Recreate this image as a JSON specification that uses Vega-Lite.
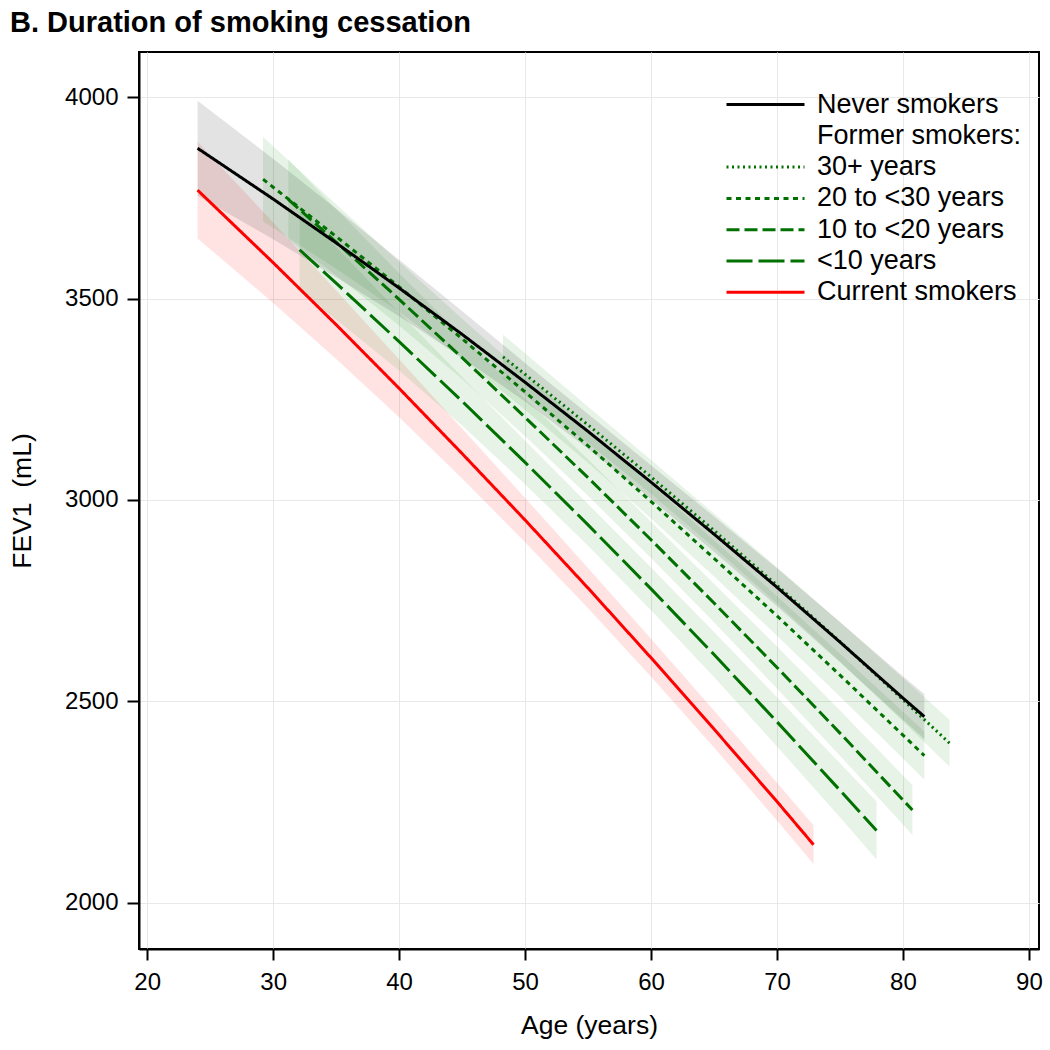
{
  "$schema": "https://vega.github.io/schema/vega-lite/v6.json",
  "autosize": {"type": "none"},
  "width": 900,
  "height": 897,
  "padding": {"left": 139, "top": 52, "right": 11, "bottom": 101},
  "background": "white",
  "title": {
    "text": "B. Duration of smoking cessation",
    "anchor": "start",
    "frame": "group",
    "orient": "top",
    "font": "Liberation Sans",
    "fontSize": 29,
    "fontWeight": "bold",
    "color": "black",
    "dx": -129,
    "offset": 14
  },
  "config": {
    "font": "Liberation Sans",
    "view": {"stroke": "black", "strokeWidth": 2},
    "axis": {
      "labelFont": "Liberation Sans",
      "titleFont": "Liberation Sans",
      "labelColor": "black",
      "titleColor": "black",
      "labelFontSize": 24,
      "titleFontSize": 26.5,
      "titleFontWeight": "normal",
      "domainColor": "black",
      "domainWidth": 2,
      "tickColor": "black",
      "tickWidth": 2,
      "gridColor": "#e8e8e8",
      "gridWidth": 1
    },
    "legend": {
      "orient": "none",
      "legendX": 586,
      "legendY": 37,
      "symbolType": "stroke",
      "symbolSize": 6084,
      "symbolStrokeWidth": 3,
      "clipHeight": 31,
      "labelFont": "Liberation Sans",
      "labelFontSize": 27,
      "labelColor": "black",
      "labelOffset": 11,
      "labelLimit": 400,
      "rowPadding": 0.3,
      "padding": 0
    }
  },
  "datasets": {
    "curves": [
      {"g": "Current smokers", "age": 24, "fev": 3769, "lo": 3649, "hi": 3889},
      {"g": "Current smokers", "age": 30, "fev": 3589, "lo": 3489, "hi": 3689},
      {"g": "Current smokers", "age": 35, "fev": 3435, "lo": 3350, "hi": 3520},
      {"g": "Current smokers", "age": 40, "fev": 3277, "lo": 3205, "hi": 3349},
      {"g": "Current smokers", "age": 45, "fev": 3115, "lo": 3053, "hi": 3177},
      {"g": "Current smokers", "age": 50, "fev": 2950, "lo": 2895, "hi": 3005},
      {"g": "Current smokers", "age": 55, "fev": 2781, "lo": 2731, "hi": 2831},
      {"g": "Current smokers", "age": 60, "fev": 2608, "lo": 2561, "hi": 2655},
      {"g": "Current smokers", "age": 65, "fev": 2431, "lo": 2385, "hi": 2477},
      {"g": "Current smokers", "age": 70, "fev": 2251, "lo": 2204, "hi": 2298},
      {"g": "Current smokers", "age": 72.9, "fev": 2144, "lo": 2096, "hi": 2192},

      {"g": "<10 years", "age": 32.1, "fev": 3621, "lo": 3516, "hi": 3726},
      {"g": "<10 years", "age": 35, "fev": 3538, "lo": 3448, "hi": 3628},
      {"g": "<10 years", "age": 40, "fev": 3393, "lo": 3321, "hi": 3465},
      {"g": "<10 years", "age": 45, "fev": 3245, "lo": 3185, "hi": 3305},
      {"g": "<10 years", "age": 50, "fev": 3093, "lo": 3039, "hi": 3147},
      {"g": "<10 years", "age": 55, "fev": 2938, "lo": 2886, "hi": 2990},
      {"g": "<10 years", "age": 60, "fev": 2779, "lo": 2726, "hi": 2832},
      {"g": "<10 years", "age": 65, "fev": 2616, "lo": 2560, "hi": 2672},
      {"g": "<10 years", "age": 70, "fev": 2449, "lo": 2388, "hi": 2510},
      {"g": "<10 years", "age": 75, "fev": 2279, "lo": 2212, "hi": 2346},
      {"g": "<10 years", "age": 77.9, "fev": 2179, "lo": 2107, "hi": 2251},

      {"g": "10 to <20 years", "age": 31.2, "fev": 3746, "lo": 3646, "hi": 3846},
      {"g": "10 to <20 years", "age": 35, "fev": 3640, "lo": 3558, "hi": 3722},
      {"g": "10 to <20 years", "age": 40, "fev": 3498, "lo": 3433, "hi": 3563},
      {"g": "10 to <20 years", "age": 45, "fev": 3353, "lo": 3300, "hi": 3406},
      {"g": "10 to <20 years", "age": 50, "fev": 3205, "lo": 3158, "hi": 3252},
      {"g": "10 to <20 years", "age": 55, "fev": 3055, "lo": 3010, "hi": 3100},
      {"g": "10 to <20 years", "age": 60, "fev": 2901, "lo": 2856, "hi": 2946},
      {"g": "10 to <20 years", "age": 65, "fev": 2744, "lo": 2696, "hi": 2792},
      {"g": "10 to <20 years", "age": 70, "fev": 2584, "lo": 2532, "hi": 2636},
      {"g": "10 to <20 years", "age": 75, "fev": 2421, "lo": 2365, "hi": 2477},
      {"g": "10 to <20 years", "age": 80, "fev": 2255, "lo": 2194, "hi": 2316},
      {"g": "10 to <20 years", "age": 80.75, "fev": 2230, "lo": 2168, "hi": 2292},

      {"g": "20 to <30 years", "age": 29.2, "fev": 3796, "lo": 3691, "hi": 3901},
      {"g": "20 to <30 years", "age": 35, "fev": 3654, "lo": 3574, "hi": 3734},
      {"g": "20 to <30 years", "age": 40, "fev": 3529, "lo": 3467, "hi": 3591},
      {"g": "20 to <30 years", "age": 45, "fev": 3400, "lo": 3350, "hi": 3450},
      {"g": "20 to <30 years", "age": 50, "fev": 3268, "lo": 3224, "hi": 3312},
      {"g": "20 to <30 years", "age": 55, "fev": 3134, "lo": 3092, "hi": 3176},
      {"g": "20 to <30 years", "age": 60, "fev": 2996, "lo": 2954, "hi": 3038},
      {"g": "20 to <30 years", "age": 65, "fev": 2855, "lo": 2810, "hi": 2900},
      {"g": "20 to <30 years", "age": 70, "fev": 2712, "lo": 2663, "hi": 2761},
      {"g": "20 to <30 years", "age": 75, "fev": 2565, "lo": 2512, "hi": 2618},
      {"g": "20 to <30 years", "age": 80, "fev": 2416, "lo": 2358, "hi": 2474},
      {"g": "20 to <30 years", "age": 81.7, "fev": 2365, "lo": 2305, "hi": 2425},

      {"g": "30+ years", "age": 48.25, "fev": 3355, "lo": 3300, "hi": 3410},
      {"g": "30+ years", "age": 50, "fev": 3312, "lo": 3260, "hi": 3364},
      {"g": "30+ years", "age": 55, "fev": 3186, "lo": 3141, "hi": 3231},
      {"g": "30+ years", "age": 60, "fev": 3057, "lo": 3015, "hi": 3099},
      {"g": "30+ years", "age": 65, "fev": 2924, "lo": 2882, "hi": 2966},
      {"g": "30+ years", "age": 70, "fev": 2788, "lo": 2743, "hi": 2833},
      {"g": "30+ years", "age": 75, "fev": 2648, "lo": 2599, "hi": 2697},
      {"g": "30+ years", "age": 80, "fev": 2504, "lo": 2450, "hi": 2558},
      {"g": "30+ years", "age": 83.7, "fev": 2396, "lo": 2338, "hi": 2454},

      {"g": "Never smokers", "age": 24, "fev": 3873, "lo": 3755, "hi": 3991},
      {"g": "Never smokers", "age": 30, "fev": 3747, "lo": 3647, "hi": 3847},
      {"g": "Never smokers", "age": 35, "fev": 3638, "lo": 3553, "hi": 3723},
      {"g": "Never smokers", "age": 40, "fev": 3526, "lo": 3456, "hi": 3596},
      {"g": "Never smokers", "age": 45, "fev": 3411, "lo": 3353, "hi": 3469},
      {"g": "Never smokers", "age": 50, "fev": 3292, "lo": 3244, "hi": 3340},
      {"g": "Never smokers", "age": 55, "fev": 3170, "lo": 3127, "hi": 3213},
      {"g": "Never smokers", "age": 60, "fev": 3044, "lo": 3002, "hi": 3086},
      {"g": "Never smokers", "age": 65, "fev": 2915, "lo": 2871, "hi": 2959},
      {"g": "Never smokers", "age": 70, "fev": 2783, "lo": 2736, "hi": 2830},
      {"g": "Never smokers", "age": 75, "fev": 2647, "lo": 2597, "hi": 2697},
      {"g": "Never smokers", "age": 80, "fev": 2508, "lo": 2454, "hi": 2562},
      {"g": "Never smokers", "age": 81.7, "fev": 2462, "lo": 2406, "hi": 2518}
    ]
  },
  "data": {"name": "curves"},
  "encoding": {
    "x": {
      "field": "age",
      "type": "quantitative",
      "scale": {"domain": [19.35, 90.8], "nice": false, "zero": false},
      "axis": {
        "title": "Age (years)",
        "values": [20, 30, 40, 50, 60, 70, 80, 90],
        "format": "d",
        "tickSize": 11,
        "labelPadding": 10,
        "titlePadding": 18
      }
    }
  },
  "layer": [
    {
      "mark": {"type": "area", "fillOpacity": 0.11, "stroke": null},
      "encoding": {
        "y": {
          "field": "lo",
          "type": "quantitative",
          "scale": {"domain": [1885, 4112], "nice": false, "zero": false},
          "axis": {
            "title": "FEV1\u00a0 (mL)",
            "values": [2000, 2500, 3000, 3500, 4000],
            "format": "d",
            "tickSize": 12,
            "labelPadding": 9,
            "titlePadding": 28
          }
        },
        "y2": {"field": "hi"},
        "fill": {
          "field": "g",
          "type": "nominal",
          "scale": {
            "domain": ["Never smokers", "30+ years", "20 to <30 years", "10 to <20 years", "<10 years", "Current smokers"],
            "range": ["#000000", "#1a961a", "#1a961a", "#1a961a", "#1a961a", "#ff0000"]
          },
          "legend": null
        },
        "detail": {"field": "g"}
      }
    },
    {
      "mark": {"type": "line", "strokeWidth": 3},
      "encoding": {
        "y": {"field": "fev", "type": "quantitative"},
        "stroke": {
          "field": "g",
          "type": "nominal",
          "scale": {
            "domain": ["Never smokers", "Former smokers:", "30+ years", "20 to <30 years", "10 to <20 years", "<10 years", "Current smokers"],
            "range": ["#000000", "transparent", "#007000", "#007000", "#007000", "#007000", "#ff0000"]
          },
          "legend": {"title": null}
        },
        "strokeDash": {
          "field": "g",
          "type": "nominal",
          "scale": {
            "domain": ["Never smokers", "Former smokers:", "30+ years", "20 to <30 years", "10 to <20 years", "<10 years", "Current smokers"],
            "range": [[1, 0], [1, 0], [2, 3.5], [5, 4.5], [13, 5], [26, 6], [1, 0]]
          },
          "legend": {"title": null}
        }
      }
    }
  ]
}
